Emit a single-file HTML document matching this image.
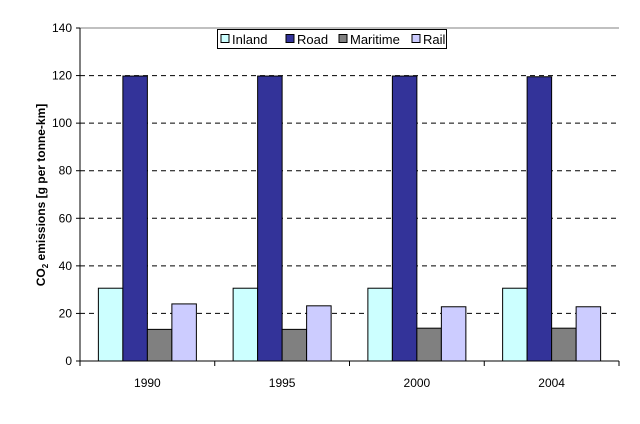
<!DOCTYPE html>
<html><head><meta charset="utf-8"><style>body{margin:0;background:#fff}svg{display:block;font-family:"Liberation Sans",Arial,sans-serif}</style></head>
<body>
<svg id="c" width="640" height="424"></svg>
<script>
const categories=["1990","1995","2000","2004"];
const seriesNames=["Inland","Road","Maritime","Rail"];
const inland=[30.6,30.6,30.6,30.6];
const road=[119.8,119.8,119.8,119.5];
const maritime=[13.3,13.3,13.8,13.8];
const rail=[24,23.2,22.8,22.8];
const yTicks=[0,20,40,60,80,100,120,140];
const colors=["#ccffff","#333399","#808080","#ccccff"];
const series=[inland,road,maritime,rail];
const NS="http://www.w3.org/2000/svg",svgEl=document.getElementById('c');
const L=80,R=619,T=28,B=361,yMax=140;
const yScale=v=>B-(v/yMax)*(B-T);
const gw=(R-L)/categories.length,bw=gw/5.5;
function mk(t,a,p){const e=document.createElementNS(NS,t);for(const k in a)e.setAttribute(k,a[k]);(p||svgEl).appendChild(e);return e;}
const plotTop=mk('line',{x1:L,x2:R,y1:T,y2:T,stroke:'#808080','stroke-width':1});


yTicks.forEach(v=>{
 if(v>0&&v<yMax){const g=mk('line',{x1:L,x2:R,y1:yScale(v),y2:yScale(v),stroke:'#000','stroke-dasharray':'5,4','stroke-width':1});
 
 }
 const tk=mk('line',{x1:L-4,x2:L,y1:yScale(v),y2:yScale(v),stroke:'#000'});
 
 
 const t=mk('text',{x:L-8,y:yScale(v)+4,'text-anchor':'end','font-size':12});t.textContent=v;
 
 
});
categories.forEach((c,i)=>{
 const x0=L+i*gw;
 series.forEach((s,j)=>{
  const bx=x0+(gw-4*bw)/2+j*bw;
  const r=mk('rect',{x:bx,y:yScale(s[i]),width:bw,height:B-yScale(s[i]),fill:colors[j],stroke:'#000','stroke-width':1});
  
  
 });
 const t=mk('text',{x:x0+gw/2,y:B+26,'text-anchor':'middle','font-size':12});t.textContent=c;
 
 
});
for(let i=0;i<=categories.length;i++){const tk=mk('line',{x1:L+i*gw,x2:L+i*gw,y1:B,y2:B+5,stroke:'#000'});
 
 }
const ax=mk('line',{x1:L,x2:L,y1:T,y2:B,stroke:'#000'});


const bxl=mk('line',{x1:L,x2:R,y1:B,y2:B,stroke:'#000'});


const yt=mk('text',{transform:'translate(45,195) rotate(-90)','text-anchor':'middle','font-size':12,'font-weight':'bold'});


yt.innerHTML='CO<tspan font-size="8" dy="3">2</tspan><tspan dy="-3"> emissions [g per tonne-km]</tspan>';
const lg=mk('g',{});


mk('rect',{x:217.5,y:29.5,width:229,height:19,fill:'#fff',stroke:'#000'},lg);
const lx=[221,286,339,412];
seriesNames.forEach((n,j)=>{
 const sw=mk('rect',{x:lx[j],y:34.5,width:8,height:8,fill:colors[j],stroke:'#000'},lg);
 
 
 const t=mk('text',{x:lx[j]+11,y:44,'font-size':13},lg);t.textContent=n;
 
 
});
</script>
</body></html>
